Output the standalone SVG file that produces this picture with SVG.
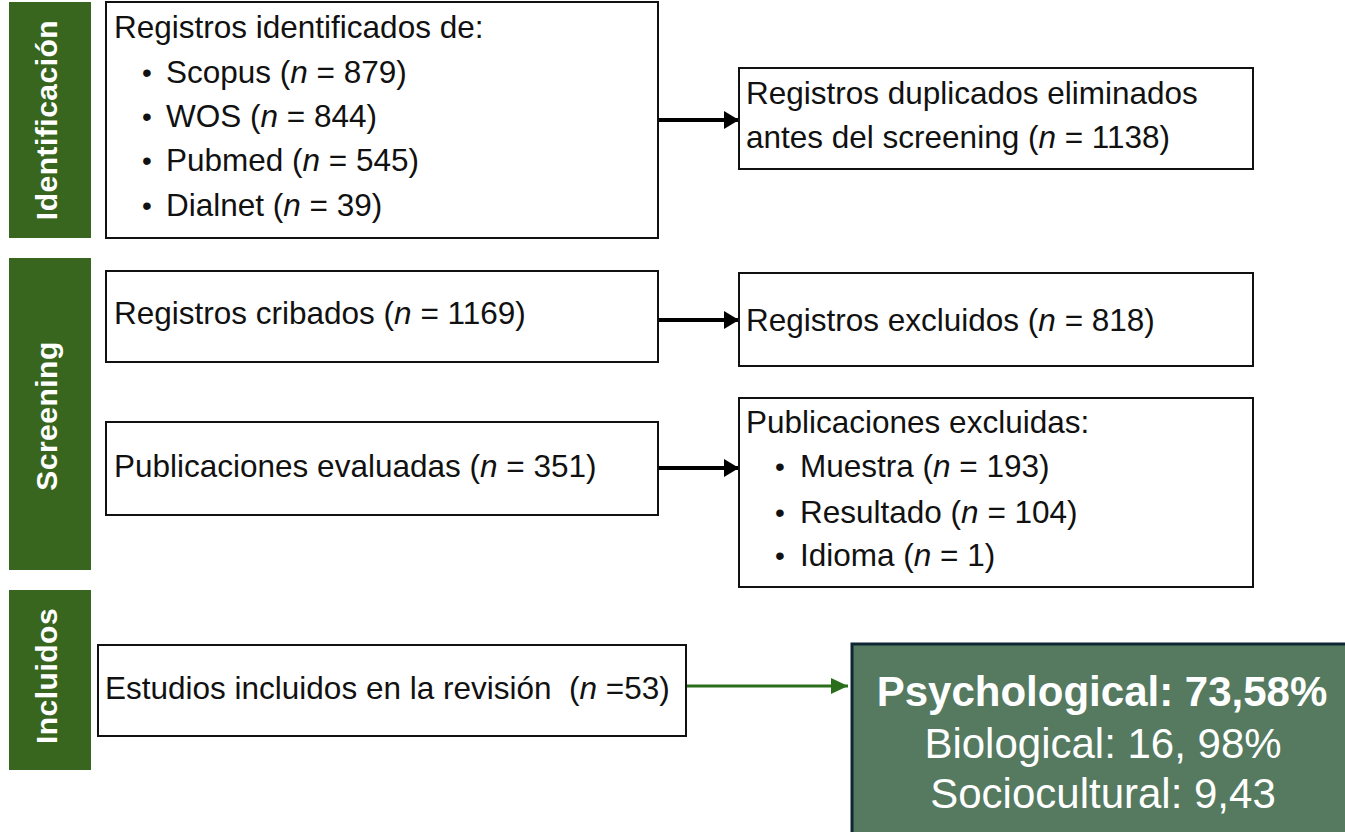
<svg xmlns="http://www.w3.org/2000/svg" width="1345" height="832" viewBox="0 0 1345 832">
  <style>
    .bar { fill: #38661f; }
    .barText { font-family: "Liberation Sans", Arial, sans-serif; font-weight: bold; font-size: 30px; fill: #ffffff; letter-spacing: 0.5px; text-anchor: middle; }
    .box { fill: #ffffff; stroke: #111111; stroke-width: 2; }
    .t { font-family: "Liberation Sans", Arial, sans-serif; font-size: 31.5px; fill: #111111; }
    .b { font-family: "Liberation Sans", Arial, sans-serif; font-size: 28px; fill: #111111; }
    .i { font-style: italic; }
    .conn { stroke: #000000; stroke-width: 4; fill: none; }
    .gconn { stroke: #2a6e1c; stroke-width: 3; fill: none; }
    .res { fill: #557a5f; stroke: #0f2735; stroke-width: 3; }
    .rt { font-family: "Liberation Sans", Arial, sans-serif; font-size: 42px; fill: #ffffff; text-anchor: middle; }
  </style>
  <defs>
    <marker id="ah" markerUnits="userSpaceOnUse" markerWidth="16" markerHeight="18" refX="15" refY="9" orient="auto">
      <path d="M0,0 L15,9 L0,18 z" fill="#000000"/>
    </marker>
    <marker id="gah" markerUnits="userSpaceOnUse" markerWidth="18" markerHeight="16" refX="17" refY="8" orient="auto">
      <path d="M0,0 L17,8 L0,16 z" fill="#2a6e1c"/>
    </marker>
  </defs>
  <rect width="1345" height="832" fill="#ffffff"/>

  <g id="phase-identificacion">
    <rect class="bar" x="9" y="2" width="82" height="236"/>
    <text class="barText" transform="translate(57,120) rotate(-90)">Identificación</text>
  </g>
  <g id="phase-screening">
    <rect class="bar" x="9" y="258" width="82" height="312"/>
    <text class="barText" transform="translate(57,416) rotate(-90)">Screening</text>
  </g>
  <g id="phase-incluidos">
    <rect class="bar" x="9" y="590" width="82" height="180"/>
    <text class="barText" transform="translate(57,676) rotate(-90)">Incluidos</text>
  </g>

  <g id="connectors">
    <line class="conn" x1="659" y1="120" x2="739" y2="120" marker-end="url(#ah)"/>
    <line class="conn" x1="659" y1="320" x2="739" y2="320" marker-end="url(#ah)"/>
    <line class="conn" x1="659" y1="468" x2="739" y2="468" marker-end="url(#ah)"/>
    <line class="gconn" x1="687" y1="686" x2="848" y2="686" marker-end="url(#gah)"/>
  </g>

  <g id="node-identificados">
    <rect class="box" x="106" y="2" width="552" height="236"/>
    <text class="t" x="114" y="38">Registros identificados de:</text>
    <text class="b" x="142" y="82">•</text>
    <text class="t" x="166" y="83">Scopus (<tspan class="i">n</tspan> = 879)</text>
    <text class="b" x="142" y="126">•</text>
    <text class="t" x="166" y="127">WOS (<tspan class="i">n</tspan> = 844)</text>
    <text class="b" x="142" y="170">•</text>
    <text class="t" x="166" y="171">Pubmed (<tspan class="i">n</tspan> = 545)</text>
    <text class="b" x="142" y="215">•</text>
    <text class="t" x="166" y="216">Dialnet (<tspan class="i">n</tspan> = 39)</text>
  </g>

  <g id="node-duplicados">
    <rect class="box" x="739" y="68" width="514" height="101"/>
    <text class="t" x="746" y="104">Registros duplicados eliminados</text>
    <text class="t" x="746" y="148">antes del screening (<tspan class="i">n</tspan> = 1138)</text>
  </g>

  <g id="node-cribados">
    <rect class="box" x="106" y="271" width="552" height="91"/>
    <text class="t" x="114" y="324">Registros cribados (<tspan class="i">n</tspan> = 1169)</text>
  </g>

  <g id="node-excluidos">
    <rect class="box" x="739" y="273" width="514" height="93"/>
    <text class="t" x="746" y="331">Registros excluidos (<tspan class="i">n</tspan> = 818)</text>
  </g>

  <g id="node-evaluadas">
    <rect class="box" x="106" y="422" width="552" height="93"/>
    <text class="t" x="114" y="477">Publicaciones evaluadas (<tspan class="i">n</tspan> = 351)</text>
  </g>

  <g id="node-pub-excluidas">
    <rect class="box" x="739" y="398" width="514" height="189"/>
    <text class="t" x="746" y="433">Publicaciones excluidas:</text>
    <text class="b" x="775" y="476">•</text>
    <text class="t" x="800" y="477">Muestra (<tspan class="i">n</tspan> = 193)</text>
    <text class="b" x="775" y="522">•</text>
    <text class="t" x="800" y="523">Resultado (<tspan class="i">n</tspan> = 104)</text>
    <text class="b" x="775" y="565">•</text>
    <text class="t" x="800" y="566">Idioma (<tspan class="i">n</tspan> = 1)</text>
  </g>

  <g id="node-incluidos">
    <rect class="box" x="98" y="645" width="588" height="91"/>
    <text class="t" x="105" y="699" xml:space="preserve">Estudios incluidos en la revisión  (<tspan class="i">n</tspan> =53)</text>
  </g>

  <g id="node-resultados">
    <rect class="res" x="852" y="644" width="500" height="200"/>
    <text class="rt" x="1102" y="706" font-weight="bold">Psychological: 73,58%</text>
    <text class="rt" x="1103" y="758">Biological: 16, 98%</text>
    <text class="rt" x="1103" y="808">Sociocultural: 9,43</text>
  </g>
</svg>
